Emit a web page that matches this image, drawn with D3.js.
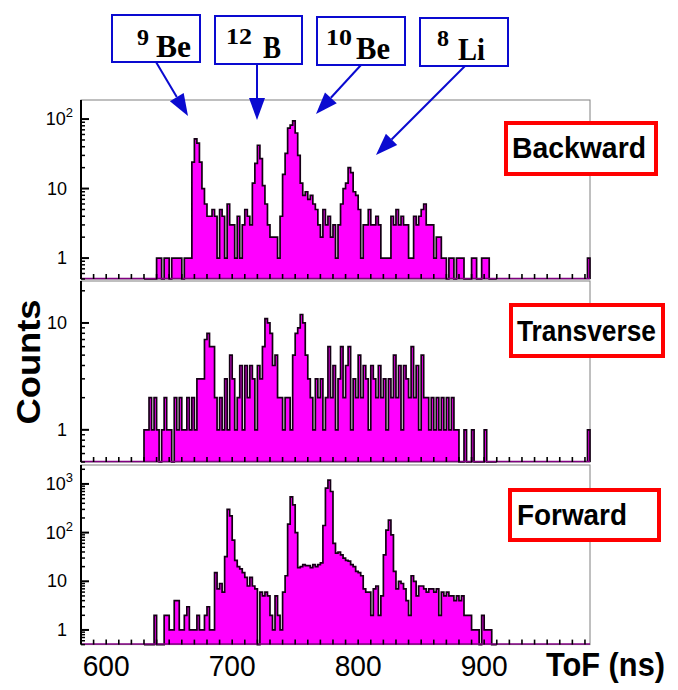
<!DOCTYPE html>
<html>
<head>
<meta charset="utf-8">
<script src="https://cdn.jsdelivr.net/npm/d3@7"></script>
<style>
  html, body { margin: 0; padding: 0; background: #fff; }
  svg { display: block; }
</style>
</head>
<body>
<div id="chart"></div>
<script>
// ToF histograms, 2 ns bins starting at 630 ns
const binStart = 630
const binWidth = 2

const backwardCounts = [
  0, 0, 0, 0, 0, 1, 1, 0, 1, 1,
  0, 1, 1, 1, 1, 0, 1, 1, 1, 24,
  52, 45, 24, 10, 6, 4, 4, 5, 4, 1,
  5, 4, 1, 6, 3, 3, 1, 4, 1, 3,
  5, 4, 3, 12, 23, 42, 27, 11, 6, 3,
  2, 2, 2, 1, 4, 16, 32, 74, 82, 94,
  63, 30, 12, 8, 9, 7, 8, 6, 5, 3,
  2, 5, 3, 4, 2, 3, 1, 3, 6, 10,
  12, 20, 17, 9, 8, 5, 1, 3, 3, 5,
  3, 3, 4, 3, 1, 1, 1, 1, 4, 3,
  5, 3, 4, 3, 3, 1, 1, 4, 3, 4,
  5, 6, 3, 3, 3, 1, 2, 2, 1, 1,
  0, 1, 1, 0, 1, 1, 1, 0, 0, 0,
  1, 1, 0, 0, 1, 1, 1, 0, 0, 0
]

const transverseCounts = [
  1, 1, 2, 1, 2, 1, 0, 1, 2, 1,
  1, 0, 2, 1, 2, 1, 1, 2, 1, 2,
  1, 3, 3, 3, 7, 8, 6, 6, 2, 1,
  2, 1, 3, 1, 5, 3, 1, 2, 4, 1,
  4, 2, 4, 3, 1, 4, 3, 6, 11, 10,
  8, 4, 5, 2, 2, 1, 2, 2, 1, 5,
  8, 9, 12, 10, 5, 3, 2, 1, 3, 2,
  3, 1, 2, 6, 2, 4, 1, 3, 6, 2,
  4, 6, 1, 3, 2, 5, 2, 4, 3, 1,
  4, 3, 2, 4, 2, 3, 1, 3, 2, 5,
  2, 4, 1, 4, 3, 2, 6, 2, 4, 1,
  5, 2, 2, 1, 2, 1, 2, 1, 2, 1,
  2, 1, 2, 1, 1, 0, 0, 1, 0, 0,
  1, 0, 0, 0, 0, 1, 0, 0, 0, 0
]

const forwardCounts = [
  0, 0, 0, 0, 2, 0, 0, 0, 2, 2,
  1, 1, 4, 4, 1, 1, 2, 3, 1, 1,
  1, 2, 1, 1, 2, 3, 1, 1, 15, 7,
  9, 6, 32, 300, 220, 70, 27, 20, 18, 15,
  12, 8, 12, 8, 7, 0, 6, 5, 6, 5,
  2, 1, 5, 2, 1, 6, 13, 150, 540, 370,
  100, 19, 20, 22, 21, 21, 19, 22, 20, 22,
  24, 140, 820, 1200, 700, 60, 38, 40, 35, 30,
  27, 26, 22, 20, 16, 15, 13, 7, 6, 6,
  2, 7, 8, 2, 5, 35, 113, 180, 90, 16,
  7, 10, 9, 7, 4, 2, 13, 10, 5, 8,
  8, 7, 6, 7, 7, 6, 7, 2, 6, 5,
  6, 5, 5, 4, 5, 4, 5, 2, 2, 2,
  1, 1, 1, 0, 2, 1, 1, 1, 0, 0
]

// last bin at the right edge of the range
const edgeBinStart = 982
const edgeCounts = [1, 1, 0]

const xTickLabels = [600, 700, 800, 900]
const backwardTicks = [1, 10, 100]
const transverseTicks = [1, 10]
const forwardTicks = [1, 10, 100, 1000]

const isotopes = [
  {mass: "9", name: "Be"},
  {mass: "12", name: "B"},
  {mass: "10", name: "Be"},
  {mass: "8", name: "Li"}
]

const width = 678, height = 690
const svg = d3.select("#chart").append("svg")
  .attr("width", width)
  .attr("height", height)

const x = d3.scaleLinear().domain([580, 984]).range([81, 590])

const panels = [
  {name: "Backward", counts: backwardCounts, edge: edgeCounts[0], top: 100, bottom: 279, max: 188, ticks: backwardTicks,
   box: [506, 123, 150, 51], textX: 512, textY: 158, textLen: 134},
  {name: "Transverse", counts: transverseCounts, edge: edgeCounts[1], top: 281, bottom: 462, max: 24.7, ticks: transverseTicks,
   box: [511, 305, 152, 51], textX: 517, textY: 341, textLen: 139},
  {name: "Forward", counts: forwardCounts, edge: edgeCounts[2], top: 465, bottom: 644.6, max: 2450, ticks: forwardTicks,
   box: [510, 490, 149, 50], textX: 517, textY: 525, textLen: 110}
]

const fontSans = "'Liberation Sans', Arial, sans-serif"
const fontSerif = "'Liberation Serif', 'Times New Roman', serif"

panels.forEach(p => {
  const y = d3.scaleLog().domain([0.5, p.max]).range([p.bottom, p.top])
  const g = svg.append("g")

  // frame
  g.append("rect")
    .attr("x", x.range()[0]).attr("y", p.top)
    .attr("width", x.range()[1] - x.range()[0]).attr("height", p.bottom - p.top)
    .attr("fill", "none").attr("stroke", "#808080").attr("stroke-width", 1)

  // histogram as step path
  const pts = [[x(binStart), p.bottom]]
  p.counts.forEach((c, i) => {
    const t0 = binStart + i * binWidth
    const yy = c > 0 ? y(c) : p.bottom
    pts.push([x(t0), yy], [x(t0 + binWidth), yy])
  })
  pts.push([x(binStart + p.counts.length * binWidth), p.bottom])

  g.append("path")
    .attr("d", d3.line()(pts))
    .attr("fill", "#ff00ff")
    .attr("stroke", "#140014")
    .attr("stroke-width", 1.7)
    .attr("stroke-linejoin", "miter")

  if (p.edge > 0) {
    g.append("path")
      .attr("d", d3.line()([[x(edgeBinStart), p.bottom], [x(edgeBinStart), y(p.edge)],
        [x(edgeBinStart + binWidth), y(p.edge)], [x(edgeBinStart + binWidth), p.bottom]]))
      .attr("fill", "#ff00ff").attr("stroke", "#140014").attr("stroke-width", 1.7)
  }

  // baseline
  g.append("line")
    .attr("x1", x.range()[0]).attr("x2", x.range()[1])
    .attr("y1", p.bottom - 0.5).attr("y2", p.bottom - 0.5)
    .attr("stroke", "#800080").attr("stroke-width", 1.5)

  // x minor ticks
  g.selectAll(".xt").data(d3.range(590, 984, 10)).join("line")
    .attr("x1", d => x(d)).attr("x2", d => x(d))
    .attr("y1", p.bottom).attr("y2", p.bottom - 5)
    .attr("stroke", "#000").attr("stroke-width", 1.6)

  // y axis line
  g.append("line")
    .attr("x1", x.range()[0]).attr("x2", x.range()[0])
    .attr("y1", p.top).attr("y2", p.bottom)
    .attr("stroke", "#000").attr("stroke-width", 2)

  // y ticks (major + minor)
  const minor = []
  for (let d = 0.1; d < p.max; d *= 10) {
    for (let k = 2; k <= 9; k++) {
      const v = k * d
      if (v >= 0.5 && v <= p.max) minor.push(v)
    }
  }
  g.selectAll(".ymin").data(minor).join("line")
    .attr("x1", x.range()[0]).attr("x2", x.range()[0] + 4)
    .attr("y1", d => y(d)).attr("y2", d => y(d))
    .attr("stroke", "#000").attr("stroke-width", 1.5)
  g.selectAll(".ymaj").data(p.ticks).join("line")
    .attr("x1", x.range()[0]).attr("x2", x.range()[0] + 8)
    .attr("y1", d => y(d)).attr("y2", d => y(d))
    .attr("stroke", "#000").attr("stroke-width", 2)

  // y tick labels
  p.ticks.forEach(v => {
    const exp = Math.round(Math.log10(v))
    const t = g.append("text")
      .attr("x", exp >= 2 ? 73 : 67)
      .attr("y", y(v) + 6)
      .attr("text-anchor", "end")
      .attr("font-family", fontSans)
      .attr("font-size", 18)
    if (exp >= 2) {
      t.append("tspan").text("10")
      t.append("tspan").attr("dy", -8).attr("font-size", 13).text(exp)
    } else {
      t.text(v)
    }
  })

  // label box
  g.append("rect")
    .attr("x", p.box[0]).attr("y", p.box[1])
    .attr("width", p.box[2]).attr("height", p.box[3])
    .attr("fill", "#fff").attr("stroke", "#ff0000").attr("stroke-width", 4)
  g.append("text")
    .attr("x", p.textX).attr("y", p.textY)
    .attr("font-family", fontSans).attr("font-weight", "bold").attr("font-size", 29)
    .attr("textLength", p.textLen).attr("lengthAdjust", "spacingAndGlyphs")
    .text(p.name)
})

// x tick labels under bottom panel
svg.selectAll(".xl").data(xTickLabels).join("text")
  .attr("x", d => x(d)).attr("y", 676)
  .attr("text-anchor", "middle")
  .attr("font-family", fontSans).attr("font-size", 30)
  .attr("textLength", 47).attr("lengthAdjust", "spacingAndGlyphs")
  .text(d => d)

svg.append("text")
  .attr("x", 546).attr("y", 676)
  .attr("font-family", fontSans).attr("font-weight", "bold").attr("font-size", 33)
  .attr("textLength", 119).attr("lengthAdjust", "spacingAndGlyphs")
  .text("ToF (ns)")

svg.append("text")
  .attr("transform", "translate(40,362) rotate(-90)")
  .attr("text-anchor", "middle")
  .attr("font-family", fontSans).attr("font-weight", "bold").attr("font-size", 34)
  .attr("textLength", 125).attr("lengthAdjust", "spacingAndGlyphs")
  .text("Counts")

// isotope annotations with arrows
const boxes = [
  {x: 112, y: 15, w: 88, h: 47, massX: 137, massY: 45, massLen: 12, nameX: 156, nameY: 57, nameLen: 35,
   from: [156, 62], to: [188, 116]},
  {x: 215, y: 16, w: 87, h: 48, massX: 226, massY: 44, massLen: 26, nameX: 263, nameY: 58, nameLen: 18,
   from: [257, 64], to: [257, 120]},
  {x: 317, y: 17, w: 88, h: 48, massX: 326, massY: 45, massLen: 26, nameX: 356, nameY: 59, nameLen: 34,
   from: [361, 65], to: [316, 114]},
  {x: 420, y: 18, w: 88, h: 48, massX: 437, massY: 46, massLen: 12, nameX: 458, nameY: 60, nameLen: 27,
   from: [465, 66], to: [376, 155]}
]

const blue = "#0a0ad0"
isotopes.forEach((iso, i) => {
  const b = boxes[i]
  svg.append("rect")
    .attr("x", b.x).attr("y", b.y).attr("width", b.w).attr("height", b.h)
    .attr("fill", "#fff").attr("stroke", blue).attr("stroke-width", 2)
  svg.append("text")
    .attr("x", b.massX).attr("y", b.massY)
    .attr("font-family", fontSerif).attr("font-weight", "bold").attr("font-size", 23)
    .attr("textLength", b.massLen).attr("lengthAdjust", "spacingAndGlyphs")
    .text(iso.mass)
  svg.append("text")
    .attr("x", b.nameX).attr("y", b.nameY)
    .attr("font-family", fontSerif).attr("font-weight", "bold").attr("font-size", 32)
    .attr("textLength", b.nameLen).attr("lengthAdjust", "spacingAndGlyphs")
    .text(iso.name)

  // arrow: line then filled head
  const [x1, y1] = b.from, [x2, y2] = b.to
  const ang = Math.atan2(y2 - y1, x2 - x1)
  const len = 22, hw = 8
  const bx = x2 - len * Math.cos(ang), by = y2 - len * Math.sin(ang)
  svg.append("line")
    .attr("x1", x1).attr("y1", y1).attr("x2", bx).attr("y2", by)
    .attr("stroke", blue).attr("stroke-width", 2)
  svg.append("path")
    .attr("d", d3.line()([
      [x2, y2],
      [bx + hw * Math.sin(ang), by - hw * Math.cos(ang)],
      [bx - hw * Math.sin(ang), by + hw * Math.cos(ang)]
    ]) + "Z")
    .attr("fill", blue)
})
</script>
</body>
</html>
